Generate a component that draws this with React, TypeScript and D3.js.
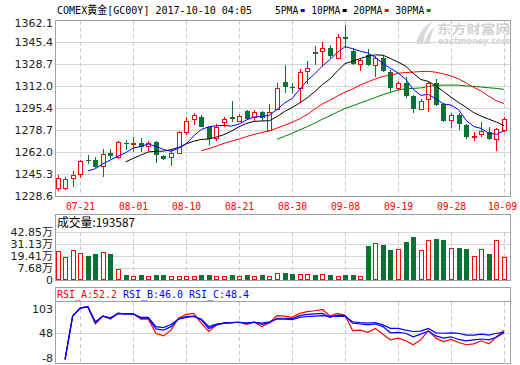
import React, { useEffect, useRef } from 'react';
import * as d3 from 'd3';

// trading days shown on the chart
const dates = [
    '07-18', '07-19', '07-20', '07-21', '07-24', '07-25', '07-26', '07-27', '07-28', '07-31',
    '08-01', '08-02', '08-03', '08-04', '08-07', '08-08', '08-09', '08-10', '08-11', '08-14',
    '08-15', '08-16', '08-17', '08-18', '08-21', '08-22', '08-23', '08-24', '08-25', '08-28',
    '08-29', '08-30', '08-31', '09-01', '09-04', '09-05', '09-06', '09-07', '09-08', '09-11',
    '09-12', '09-13', '09-14', '09-15', '09-18', '09-19', '09-20', '09-21', '09-22', '09-25',
    '09-26', '09-27', '09-28', '09-29', '10-02', '10-03', '10-04', '10-05', '10-06', '10-09',
];
const dateTicks = ['07-21', '08-01', '08-10', '08-21', '08-30', '09-08', '09-19', '09-28', '10-09'];

const opens = [
    1234.4, 1234.4, 1242.0, 1245.1, 1256.2, 1255.9, 1251.4, 1261.0, 1257.9, 1268.6,
    1268.0, 1268.6, 1266.8, 1269.3, 1259.2, 1257.9, 1261.0, 1277.4, 1286.8, 1288.3,
    1280.7, 1272.4, 1284.5, 1288.3, 1285.7, 1293.1, 1288.8, 1292.1, 1278.7, 1294.4,
    1314.8, 1311.5, 1310.8, 1323.4, 1337.6, 1338.6, 1341.1, 1333.5, 1349.5, 1338.6,
    1328.5, 1335.6, 1328.0, 1333.5, 1322.9, 1310.8, 1314.5, 1304.5, 1294.4, 1301.9,
    1314.1, 1298.2, 1286.3, 1290.0, 1282.4, 1273.9, 1275.6, 1277.4, 1271.9, 1278.7,
];
const closes = [
    1242.0, 1241.3, 1244.5, 1254.9, 1255.4, 1250.4, 1260.2, 1258.9, 1269.3, 1268.0,
    1268.5, 1266.0, 1268.6, 1259.7, 1256.9, 1261.4, 1277.4, 1285.5, 1289.8, 1281.2,
    1271.6, 1281.2, 1286.8, 1287.2, 1289.3, 1287.3, 1292.5, 1288.0, 1292.5, 1310.8,
    1311.5, 1310.3, 1322.4, 1326.0, 1336.1, 1341.1, 1335.1, 1349.5, 1347.5, 1328.5,
    1331.8, 1328.0, 1333.0, 1323.6, 1310.8, 1314.1, 1304.7, 1294.6, 1300.7, 1314.1,
    1297.6, 1285.5, 1290.0, 1283.0, 1273.6, 1274.4, 1278.1, 1271.6, 1279.2, 1286.8,
];
const highs = [
    1244.6, 1243.2, 1247.3, 1256.1, 1259.7, 1258.4, 1264.2, 1264.4, 1270.0, 1271.1,
    1273.1, 1272.4, 1270.0, 1270.0, 1259.7, 1264.4, 1278.0, 1288.3, 1291.3, 1289.8,
    1281.2, 1283.0, 1288.3, 1300.9, 1290.8, 1294.0, 1293.6, 1293.3, 1298.2, 1314.5,
    1328.0, 1314.2, 1325.0, 1331.3, 1342.6, 1345.7, 1343.0, 1351.3, 1358.3, 1341.0,
    1333.0, 1339.9, 1334.5, 1335.5, 1324.5, 1315.5, 1319.1, 1305.5, 1301.8, 1315.3,
    1317.4, 1299.0, 1291.8, 1291.8, 1283.5, 1277.5, 1284.5, 1281.2, 1280.0, 1288.7,
];
const lows = [
    1232.4, 1233.5, 1235.2, 1242.6, 1252.9, 1250.0, 1243.2, 1256.6, 1256.6, 1263.4,
    1262.2, 1262.2, 1263.0, 1253.9, 1256.2, 1251.4, 1260.3, 1274.9, 1282.5, 1280.7,
    1267.3, 1270.0, 1281.2, 1285.0, 1284.5, 1286.0, 1285.7, 1285.7, 1277.9, 1294.0,
    1306.9, 1307.0, 1298.9, 1313.6, 1328.0, 1327.4, 1333.0, 1332.3, 1340.6, 1328.0,
    1323.4, 1327.0, 1319.1, 1323.0, 1307.3, 1308.5, 1302.7, 1291.3, 1293.5, 1292.1,
    1297.0, 1285.0, 1280.4, 1278.7, 1272.0, 1270.0, 1273.0, 1271.0, 1262.7, 1277.5,
];
// volume in 万
const volumes = [
    25.9, 20.3, 26.8, 24.1, 21.4, 23.5, 25.0, 23.2, 9.8, 4.5,
    3.8, 4.5, 3.8, 4.5, 4.5, 3.8, 3.8, 3.8, 3.8, 4.5,
    4.5, 3.8, 3.8, 4.5, 3.8, 4.5, 3.8, 4.5, 3.8, 6.0,
    6.2, 5.2, 5.0, 5.0, 4.5, 5.0, 4.5, 3.8, 4.5, 4.5,
    3.8, 30.4, 32.8, 31.3, 26.8, 27.4, 33.9, 38.4, 26.5, 35.4,
    36.6, 35.7, 28.3, 28.6, 27.7, 21.2, 27.4, 23.2, 35.4, 20.3,
];
const rsiA = [
    null, -11, 87, 105, 108, 69, 87, 80, 93, 92,
    92, 80, 80, 48, 42, 55, 82, 91, 93, 71,
    52, 67, 71, 72, 73, 68, 73, 63, 72, 88,
    87, 84, 93, 97, 99, 102, 87, 93, 89, 54,
    55, 50, 59, 46, 33, 37, 31, 22, 33, 54,
    37, 29, 34, 27, 22, 24, 31, 24, 40, 55,
];
const rsiB = [
    null, -11, 87, 105, 108, 72, 87, 82, 93, 92,
    92, 82, 82, 58, 55, 63, 81, 86, 87, 78,
    59, 67, 71, 72, 73, 71, 73, 68, 72, 82,
    82, 81, 88, 91, 92, 93, 84, 89, 88, 71,
    69, 67, 69, 63, 49, 50, 48, 40, 46, 53,
    42, 37, 40, 34, 31, 33, 35, 33, 39, 49,
];
const rsiC = [
    null, -11, 87, 105, 108, 74, 87, 83, 93, 92,
    92, 84, 84, 63, 61, 68, 80, 84, 86, 80,
    63, 69, 71, 72, 73, 71, 73, 71, 74, 80,
    80, 79, 84, 86, 87, 88, 86, 87, 86, 74,
    72, 71, 72, 67, 59, 59, 55, 52, 53, 59,
    49, 48, 49, 48, 44, 44, 46, 44, 48, 50,
];

const priceTicks = [1228.6, 1245.3, 1262.0, 1278.7, 1295.4, 1312.0, 1328.7, 1345.4, 1362.1];
const volTicks = ['0', '7.68万', '19.41万', '31.13万', '42.85万'];
const rsiTicks = [103, 48, -8];
const maPeriods = [5, 10, 20, 30];
const maColors = ['#0000ff', '#000000', '#ff0000', '#008000'];
const rsiLabels = ['RSI_A:52.2', 'RSI_B:46.0', 'RSI_C:48.4'];
const rsiColors = ['#ff0000', '#0000ff', '#0000ff'];
const title = 'COMEX黄金[GC00Y] 2017-10-10 04:05';
const volLabel = '成交量:193587';

const UP = '#ff0000';
const DOWN = '#097235';
const GRID = '#d6d6d6';
const FRAME = '#a0a0a0';
const MONO = '"DejaVu Sans Mono", "Noto Sans CJK SC", monospace';
const SANS = '"DejaVu Sans", "Noto Sans CJK SC", sans-serif';

const movingAverage = (values: number[], n: number) =>
    values.map((_, i) => (i < n - 1 ? null : d3.mean(values.slice(i - n + 1, i + 1))!));

export default function App() {
    const ref = useRef<SVGSVGElement | null>(null);

    useEffect(() => {
        const svg = d3.select(ref.current);
        svg.selectAll('*').remove();

        const left = 55.5;
        const right = 510.5;

        const x = d3.scaleLinear().domain([0, dates.length - 1]).range([57.5, 504]);
        const px = (i: number) => Math.round(x(i)) + 0.5;
        const yP = d3.scaleLinear().domain([1228.6, 1362.1]).range([196, 20]);
        const yV = d3.scaleLinear().domain([0, 42.85]).range([280, 232]);
        const yVt = d3.scalePoint().domain(volTicks).range([280, 232]);
        const yR = d3.scaleLinear().domain([-20, 119.5]).range([363.3, 301.7]);
        const snap = (v: number) => Math.round(v) + 0.5;
        const tickIdx = dateTicks.map((d) => dates.indexOf(d));

        // header: title and MA legend
        svg.append('text')
            .attr('x', 57)
            .attr('y', 13.5)
            .attr('textLength', 195)
            .attr('lengthAdjust', 'spacingAndGlyphs')
            .style('font-family', MONO)
            .style('font-size', '11px')
            .text(title);

        let lx = 275;
        maPeriods.forEach((p, k) => {
            const label = `${p}PMA`;
            const w = label.length * 5.8;
            svg.append('text')
                .attr('x', lx)
                .attr('y', 13.5)
                .attr('textLength', w)
                .attr('lengthAdjust', 'spacingAndGlyphs')
                .style('font-family', MONO)
                .style('font-size', '11px')
                .text(label);
            svg.append('rect')
                .attr('x', lx + w + 2.5)
                .attr('y', 9)
                .attr('width', 4)
                .attr('height', 3)
                .attr('fill', maColors[k]);
            lx += w + 13;
        });

        // watermark
        const wm = svg.append('g').attr('fill', '#d2d2d2');
        wm.append('path')
            .attr('d', 'M416,44 C418,34 424,26 433,21 C428,28 424,35 423,44 Z')
            .attr('fill', '#dadada');
        wm.append('path')
            .attr('d', 'M424,44 C426,36 430,30 435,27 C432,33 430,38 430,44 Z')
            .attr('fill', '#dadada');
        wm.append('text')
            .attr('x', 437)
            .attr('y', 33.5)
            .attr('textLength', 73)
            .attr('lengthAdjust', 'spacingAndGlyphs')
            .style('font-family', '"Noto Sans CJK SC", sans-serif')
            .style('font-size', '12.5px')
            .style('font-weight', 'bold')
            .text('东方财富网');
        wm.append('text')
            .attr('x', 438)
            .attr('y', 44)
            .attr('textLength', 72)
            .attr('lengthAdjust', 'spacingAndGlyphs')
            .style('font-family', SANS)
            .style('font-size', '8px')
            .style('font-weight', 'bold')
            .style('font-style', 'italic')
            .text('eastmoney.com');

        // ---------- main price panel ----------
        const main = svg.append('g');
        main.selectAll('.hgrid')
            .data(priceTicks)
            .join('line')
            .attr('x1', left)
            .attr('x2', right)
            .attr('y1', (d) => snap(yP(d)))
            .attr('y2', (d) => snap(yP(d)))
            .attr('stroke', GRID);
        main.selectAll('.vgrid')
            .data(tickIdx)
            .join('line')
            .attr('x1', (d) => px(d))
            .attr('x2', (d) => px(d))
            .attr('y1', 20.5)
            .attr('y2', 196)
            .attr('stroke', '#c8c8c8')
            .attr('stroke-dasharray', '4,3');
        main.append('rect')
            .attr('x', left)
            .attr('y', 20.5)
            .attr('width', right - left)
            .attr('height', 176)
            .attr('fill', 'none')
            .attr('stroke', FRAME);

        main.selectAll('.plabel')
            .data(priceTicks)
            .join('text')
            .attr('x', 53)
            .attr('y', (d) => Math.max(yP(d), 23.5))
            .attr('dy', '0.36em')
            .attr('text-anchor', 'end')
            .attr('fill', '#222')
            .style('font-family', SANS)
            .style('font-size', '11px')
            .text((d) => d.toFixed(1));

        main.selectAll('.xlabel')
            .data(tickIdx)
            .join('text')
            .attr('x', (d) => Math.min(px(d), 502.5))
            .attr('y', 209.5)
            .attr('text-anchor', 'middle')
            .attr('textLength', 29)
            .attr('lengthAdjust', 'spacingAndGlyphs')
            .attr('fill', '#ff0000')
            .style('font-family', MONO)
            .style('font-size', '11px')
            .text((d) => dates[d]);

        // candles
        const candles = main.append('g');
        dates.forEach((_, i) => {
            const cx = px(i);
            const up = closes[i] >= opens[i];
            const color = up ? UP : DOWN;
            const top = Math.round(yP(Math.max(opens[i], closes[i])));
            const bot = Math.round(yP(Math.min(opens[i], closes[i])));
            candles
                .append('line')
                .attr('x1', cx)
                .attr('x2', cx)
                .attr('y1', Math.round(yP(highs[i])))
                .attr('y2', Math.round(yP(lows[i])))
                .attr('stroke', color);
            if (up) {
                candles
                    .append('rect')
                    .attr('x', cx - 2)
                    .attr('y', top + 0.5)
                    .attr('width', 4)
                    .attr('height', Math.max(bot - top, 1))
                    .attr('fill', '#fff')
                    .attr('stroke', UP);
            } else {
                candles
                    .append('rect')
                    .attr('x', cx - 2.5)
                    .attr('y', top)
                    .attr('width', 5)
                    .attr('height', Math.max(bot - top, 1))
                    .attr('fill', DOWN);
            }
        });

        // moving averages
        const maLine = d3
            .line<number | null>()
            .defined((d) => d !== null)
            .x((_, i) => x(i))
            .y((d) => yP(d as number));
        [...maPeriods.keys()].reverse().forEach((k) => {
            main.append('path')
                .datum(movingAverage(closes, maPeriods[k]))
                .attr('d', maLine)
                .attr('fill', 'none')
                .attr('stroke', maColors[k])
                .attr('stroke-width', 1);
        });

        // ---------- volume panel ----------
        const vol = svg.append('g');
        vol.selectAll('.vhgrid')
            .data(volTicks.slice(1))
            .join('line')
            .attr('x1', left)
            .attr('x2', right)
            .attr('y1', (d) => snap(yVt(d)!))
            .attr('y2', (d) => snap(yVt(d)!))
            .attr('stroke', GRID);
        vol.selectAll('.vvgrid')
            .data(tickIdx)
            .join('line')
            .attr('x1', (d) => px(d))
            .attr('x2', (d) => px(d))
            .attr('y1', 232)
            .attr('y2', 280)
            .attr('stroke', '#c8c8c8')
            .attr('stroke-dasharray', '4,3');
        vol.append('rect')
            .attr('x', left)
            .attr('y', 214.5)
            .attr('width', right - left)
            .attr('height', 66)
            .attr('fill', 'none')
            .attr('stroke', FRAME);
        vol.append('text')
            .attr('x', 57)
            .attr('y', 227)
            .attr('textLength', 78)
            .attr('lengthAdjust', 'spacingAndGlyphs')
            .style('font-family', '"Noto Sans CJK SC", sans-serif')
            .style('font-size', '12px')
            .text(volLabel);
        vol.selectAll('.vlabel')
            .data(volTicks)
            .join('text')
            .attr('x', 53)
            .attr('y', (d) => yVt(d)!)
            .attr('dy', '0.36em')
            .attr('text-anchor', 'end')
            .attr('fill', '#222')
            .style('font-family', SANS)
            .style('font-size', '11px')
            .text((d) => d);

        dates.forEach((_, i) => {
            const cx = px(i);
            const up = closes[i] >= opens[i];
            const top = Math.round(yV(volumes[i]));
            if (up) {
                vol.append('rect')
                    .attr('x', cx - 2)
                    .attr('y', top + 0.5)
                    .attr('width', 4)
                    .attr('height', 279 - top)
                    .attr('fill', '#fff')
                    .attr('stroke', UP);
            } else {
                vol.append('rect')
                    .attr('x', cx - 2.5)
                    .attr('y', top)
                    .attr('width', 5)
                    .attr('height', 280 - top)
                    .attr('fill', DOWN);
            }
        });

        // ---------- RSI panel ----------
        const rsi = svg.append('g');
        rsi.append('line')
            .attr('x1', left)
            .attr('x2', right)
            .attr('y1', snap(yR(48)))
            .attr('y2', snap(yR(48)))
            .attr('stroke', GRID);
        rsi.selectAll('.rvgrid')
            .data(tickIdx)
            .join('line')
            .attr('x1', (d) => px(d))
            .attr('x2', (d) => px(d))
            .attr('y1', 302)
            .attr('y2', 363)
            .attr('stroke', '#c8c8c8')
            .attr('stroke-dasharray', '4,3');
        rsi.append('rect')
            .attr('x', left)
            .attr('y', 287.5)
            .attr('width', right - left)
            .attr('height', 76)
            .attr('fill', 'none')
            .attr('stroke', FRAME);
        rsi.append('line')
            .attr('x1', left)
            .attr('x2', right)
            .attr('y1', 301.5)
            .attr('y2', 301.5)
            .attr('stroke', FRAME);
        rsi.selectAll('.rlabel')
            .data(rsiTicks)
            .join('text')
            .attr('x', 53)
            .attr('y', (d) => yR(d))
            .attr('dy', '0.36em')
            .attr('text-anchor', 'end')
            .attr('fill', '#222')
            .style('font-family', SANS)
            .style('font-size', '11px')
            .text((d) => d);
        rsiLabels.forEach((label, k) => {
            rsi.append('text')
                .attr('x', 57 + k * 66)
                .attr('y', 298)
                .attr('textLength', 60)
                .attr('lengthAdjust', 'spacingAndGlyphs')
                .attr('fill', rsiColors[k])
                .style('font-family', MONO)
                .style('font-size', '11px')
                .text(label);
        });

        const rsiLine = d3
            .line<number | null>()
            .defined((d) => d !== null)
            .x((_, i) => x(i))
            .y((d) => yR(d as number));
        [rsiA, rsiB, rsiC].forEach((series, k) => {
            rsi.append('path')
                .datum(series)
                .attr('d', rsiLine)
                .attr('fill', 'none')
                .attr('stroke', rsiColors[k])
                .attr('stroke-width', 1.2);
        });
    }, []);

    return (
        <svg
            ref={ref}
            width={520}
            height={365}
            style={{ position: 'absolute', left: 0, top: 0, background: '#fff' }}
        />
    );
}
